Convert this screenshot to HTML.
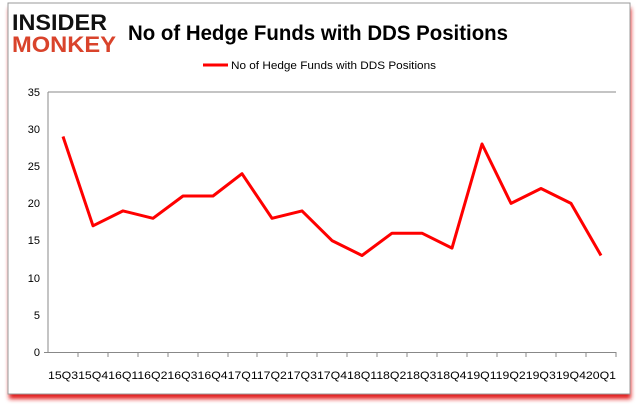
<!DOCTYPE html>
<html><head><meta charset="utf-8"><style>
body{margin:0;background:#fff;width:637px;height:408px;overflow:hidden;font-family:"Liberation Sans",sans-serif}
</style></head><body>
<svg width="637" height="408" xmlns="http://www.w3.org/2000/svg">
<defs><filter id="b" x="-5%" y="-5%" width="110%" height="110%"><feGaussianBlur stdDeviation="2"/></filter></defs>
<rect x="9" y="8" width="622" height="391" fill="#e21b1b" filter="url(#b)"/>
<rect x="8" y="3" width="622" height="391" fill="#fff" stroke="#999" stroke-width="1"/>
<text x="12" y="30" font-family="Liberation Sans" font-weight="bold" font-size="22" fill="#111" textLength="95" lengthAdjust="spacingAndGlyphs">INSIDER</text>
<text x="12" y="52" font-family="Liberation Sans" font-weight="bold" font-size="22" fill="#d9432b" textLength="104" lengthAdjust="spacingAndGlyphs">MONKEY</text>
<text x="128" y="40" font-family="Liberation Sans" font-weight="bold" font-size="21" fill="#000" textLength="380" lengthAdjust="spacingAndGlyphs">No of Hedge Funds with DDS Positions</text>
<line x1="203" y1="65" x2="228" y2="65" stroke="#f00" stroke-width="3"/>
<text x="231" y="69" font-size="11" fill="#000" textLength="205" lengthAdjust="spacingAndGlyphs">No of Hedge Funds with DDS Positions</text>
<g stroke="#888" stroke-width="1">
<line x1="48" y1="92" x2="616" y2="92"/>
<line x1="48" y1="92" x2="48" y2="353"/>
<line x1="44" y1="352.5" x2="616" y2="352.5"/>
</g>
<g font-size="11" fill="#000" text-anchor="end">
<text x="40" y="96">35</text><text x="40" y="133">30</text><text x="40" y="170">25</text><text x="40" y="207">20</text><text x="40" y="244">15</text><text x="40" y="282">10</text><text x="40" y="319">5</text><text x="40" y="356">0</text>
</g>
<text x="48" y="379" font-size="11" fill="#000" textLength="568" lengthAdjust="spacingAndGlyphs">15Q315Q416Q116Q216Q316Q417Q117Q217Q317Q418Q118Q218Q318Q419Q119Q219Q319Q420Q1</text>
<g id="t" stroke="#888"></g>
<polyline fill="none" stroke="#f00" stroke-width="3" stroke-linejoin="round" points="63,136.5 93,225.8 123,210.9 153,218.3 183,196 213,196 242,173.7 272,218.3 302,210.9 332,240.6 362,255.5 392,233.2 422,233.2 452,248.1 482,144 511,203.4 541,188.5 571,203.4 601,255.5"/>
<g stroke="#888">
<line x1="78" y1="352" x2="78" y2="357"/><line x1="108" y1="352" x2="108" y2="357"/><line x1="138" y1="352" x2="138" y2="357"/><line x1="168" y1="352" x2="168" y2="357"/><line x1="198" y1="352" x2="198" y2="357"/><line x1="228" y1="352" x2="228" y2="357"/><line x1="257" y1="352" x2="257" y2="357"/><line x1="287" y1="352" x2="287" y2="357"/><line x1="317" y1="352" x2="317" y2="357"/><line x1="347" y1="352" x2="347" y2="357"/><line x1="377" y1="352" x2="377" y2="357"/><line x1="407" y1="352" x2="407" y2="357"/><line x1="437" y1="352" x2="437" y2="357"/><line x1="467" y1="352" x2="467" y2="357"/><line x1="497" y1="352" x2="497" y2="357"/><line x1="526" y1="352" x2="526" y2="357"/><line x1="556" y1="352" x2="556" y2="357"/><line x1="586" y1="352" x2="586" y2="357"/><line x1="616" y1="352" x2="616" y2="357"/>
</g>
</svg>
</body></html>
